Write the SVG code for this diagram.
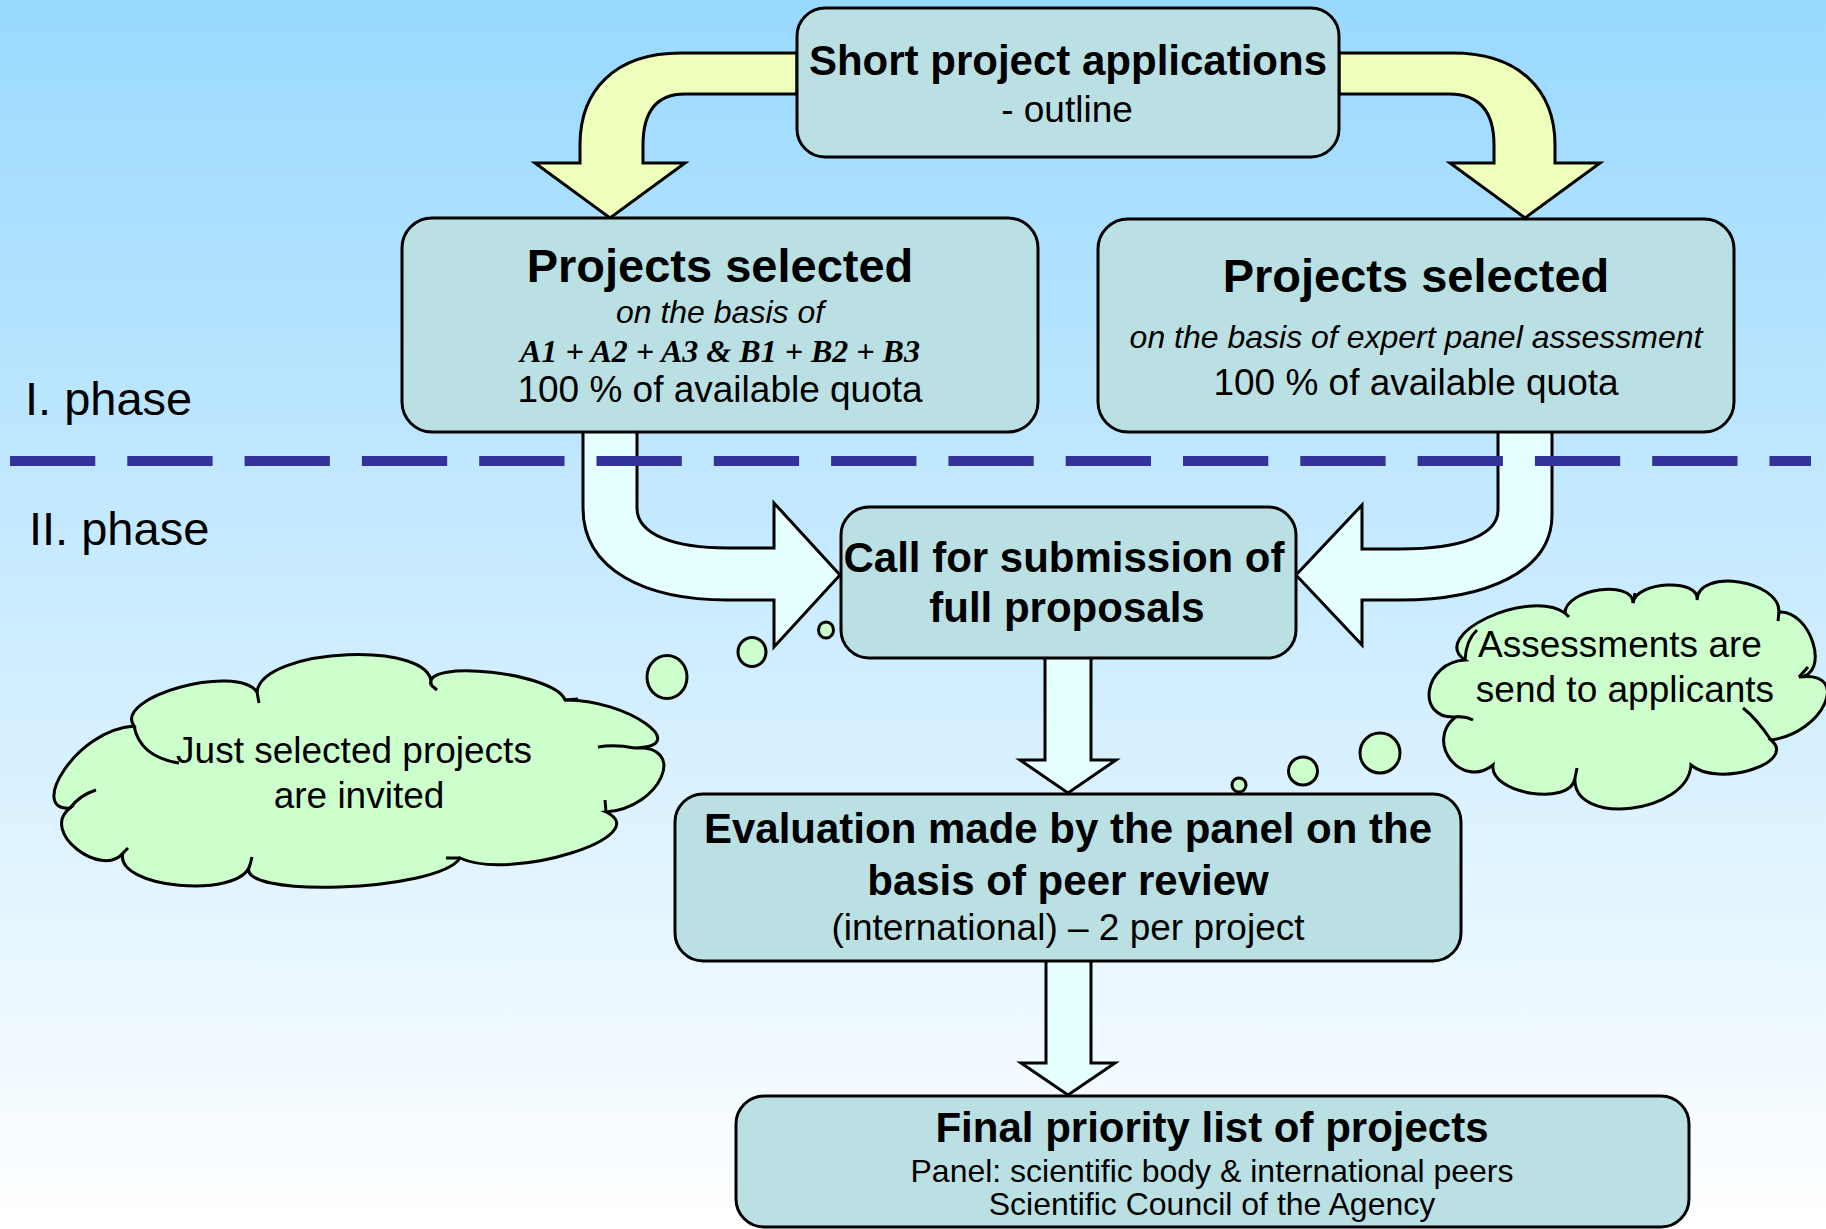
<svg xmlns="http://www.w3.org/2000/svg" width="1826" height="1229" viewBox="0 0 1826 1229">
<defs>
<linearGradient id="bg" x1="0" y1="0" x2="0" y2="1">
<stop offset="0" stop-color="#99D9FF"/>
<stop offset="1" stop-color="#FFFFFF"/>
</linearGradient>
</defs>
<style>
.box{fill:#BAE0E3;stroke:#000;stroke-width:3}
.yarrow{fill:#EEFFBB;stroke:#000;stroke-width:3;stroke-linejoin:miter}
.carrow{fill:#E6FFFF;stroke:#000;stroke-width:3;stroke-linejoin:miter}
.cloud{fill:#CCFFCC;stroke:#000;stroke-width:3}
.tick{fill:none;stroke:#000;stroke-width:3}
text{font-family:"Liberation Sans",Arial,sans-serif;fill:#000;text-anchor:middle}
.b{font-weight:bold}
.h1{font-size:42px}
.h2{font-size:47px}
.r{font-size:37px}
.s{font-size:32px}
.i{font-style:italic}
.f{font-family:"Liberation Serif","Times New Roman",serif;font-weight:bold;font-style:italic;font-size:32px}
.ph{font-size:47px;text-anchor:start}
</style>
<rect x="0" y="0" width="1826" height="1229" fill="url(#bg)"/>

<g id="connectors">
<path class="yarrow" d="M797,53 L681,53 C615,53 580,90 580,145 L580,163 L535,163 L610,218 L685,163 L643,163 L643,145 C643,112 656,94 685,94 L797,94 Z"/>
<path class="yarrow" d="M1339,53 L1453,53 C1519,53 1555,90 1555,145 L1555,163 L1600,163 L1525,218 L1450,163 L1494,163 L1494,145 C1494,112 1480,94 1449,94 L1339,94 Z"/>
<path class="carrow" d="M583,430 L583,508 C583,570 645,600 728,600 L774,600 L774,647 L840,575 L774,503 L774,548 L728,548 C675,548 637,535 637,508 L637,430 Z"/>
<path class="carrow" d="M1552,430 L1552,515 C1552,572 1485,600 1400,600 L1362,600 L1362,645 L1296,575 L1362,505 L1362,549 L1400,549 C1462,549 1498,535 1498,510 L1498,430 Z"/>
<path class="carrow" d="M1045,655 L1045,760 L1020,760 L1068,793 L1116,760 L1091,760 L1091,655 Z"/>
<path class="carrow" d="M1046,959 L1046,1063 L1021,1063 L1068,1095 L1115,1063 L1091,1063 L1091,959 Z"/>
</g>

<g id="phase-divider">
<line x1="10" y1="461" x2="1811" y2="461" stroke="#333399" stroke-width="10" stroke-dasharray="85.3 32"/>
<text class="ph" x="25" y="415">I. phase</text>
<text class="ph" x="29" y="545">II. phase</text>
</g>

<g id="node-short">
<rect class="box" x="797" y="8" width="542" height="149" rx="28"/>
<text class="b h1" x="1068" y="75">Short project applications</text>
<text class="r" x="1067" y="122">- outline</text>
</g>

<g id="node-selected-left">
<rect class="box" x="402" y="218" width="636" height="214" rx="30"/>
<text class="b h2" x="720" y="282">Projects selected</text>
<text class="s i" x="720" y="323">on the basis of</text>
<text class="f" x="720" y="362" textLength="400" lengthAdjust="spacingAndGlyphs">A1 + A2 + A3 &amp; B1 + B2 + B3</text>
<text class="r" x="720" y="402">100 % of available quota</text>
</g>

<g id="node-selected-right">
<rect class="box" x="1098" y="219" width="636" height="213" rx="30"/>
<text class="b h2" x="1416" y="292">Projects selected</text>
<text class="s i" x="1416" y="348">on the basis of expert panel assessment</text>
<text class="r" x="1416" y="395">100 % of available quota</text>
</g>

<g id="node-call">
<rect class="box" x="841" y="507" width="455" height="151" rx="28"/>
<text class="b h1" x="1064" y="572">Call for submission of</text>
<text class="b h1" x="1067" y="622">full proposals</text>
</g>

<g id="node-evaluation">
<rect class="box" x="675" y="794" width="786" height="167" rx="28"/>
<text class="b h1" x="1068" y="843">Evaluation made by the panel on the</text>
<text class="b h1" x="1068" y="895">basis of peer review</text>
<text class="r" x="1068" y="940">(international) – 2 per project</text>
</g>

<g id="node-final">
<rect class="box" x="736" y="1096" width="953" height="131" rx="28"/>
<text class="b h1" x="1212" y="1142">Final priority list of projects</text>
<text class="s" x="1212" y="1182">Panel: scientific body &amp; international peers</text>
<text class="s" x="1212" y="1215">Scientific Council of the Agency</text>
</g>

<g id="cloud-left">
<path class="cloud" d="M134,726 C75,730 28,812 70,808 C39,832 102,879 123,853 C113,888 240,900 250,865 C229,899 439,892 460,858 C511,882 657,836 606,812 C661,808 689,744 634,748 C695,747 626,699 565,700 C556,673 422,658 431,685 C436,640 262,647 257,692 C236,663 113,697 134,726 Z"/>
<path class="tick" d="M134,726 Q140,757 179,763 M70,808 Q80,795 96,790 M123,853 L128,848 M250,865 L252,857 M460,858 L446,858 M606,812 L605,800 M634,748 Q615,744 598,747 M565,700 L578,699 M431,685 L437,690 M257,692 L259,703"/>
<ellipse class="cloud" cx="826" cy="630" rx="7.5" ry="8"/>
<ellipse class="cloud" cx="752" cy="652" rx="14" ry="14.5"/>
<ellipse class="cloud" cx="667" cy="677" rx="20" ry="21.5"/>
<text class="r" x="354" y="763">Just selected projects</text>
<text class="r" x="359" y="808">are invited</text>
</g>

<g id="cloud-right">
<path class="cloud" d="M1465,660 C1424,662 1414.5,719 1455.5,717 C1424,742 1461.5,790 1493,765 C1489,794 1571,807 1575,778 C1572,827 1688,814 1691,765 C1718,788 1798,763 1771,740 C1824,733 1852,670 1799,677 C1831,675 1811,610 1779,612 C1780,580 1698,568 1697,600 C1700,578 1636,581 1633,603 C1633,579 1565,589 1565,613 C1528,588 1428,635 1465,660 Z"/>
<path class="tick" d="M1465,660 Q1466,640 1477,630 M1455.5,717 Q1465,716 1473,720 M1575,778 L1577,768 M1771,740 Q1756,718 1743,708 M1799,677 L1808,667 M1779,612 L1778,621 M1633,603 L1635,593 M1565,613 L1569,617"/>
<ellipse class="cloud" cx="1239" cy="785" rx="7" ry="7"/>
<ellipse class="cloud" cx="1303" cy="771" rx="14.5" ry="14"/>
<ellipse class="cloud" cx="1380" cy="753" rx="20" ry="20"/>
<text class="r" x="1620" y="657">Assessments are</text>
<text class="r" x="1625" y="702">send to applicants</text>
</g>
</svg>
